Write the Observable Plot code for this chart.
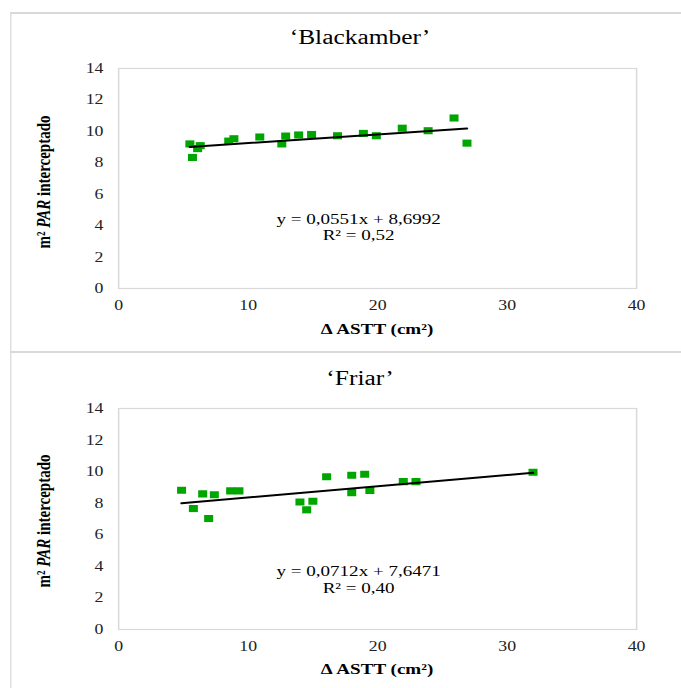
<!DOCTYPE html>
<html><head><meta charset="utf-8">
<script src="https://cdn.jsdelivr.net/npm/d3@7"></script>
<script src="https://cdn.jsdelivr.net/npm/@observablehq/plot@0.6"></script>
<style>
body{margin:0;background:#fff;}
#page{position:absolute;left:0;top:0;height:688px;transform-origin:0 0;font-family:"Liberation Serif","Times New Roman",serif;color:#000;}
.abs{position:absolute;white-space:nowrap;}
.line{position:absolute;background:#d9d9d9;}
.title{font-size:20px;transform:translate(-50%,-50%);}
.xlab{font-size:15px;font-weight:bold;transform:translate(-50%,-50%);}
.ylab{font-size:15px;font-weight:bold;transform:translate(-50%,-50%) rotate(-90deg);}
</style></head><body><div id="page"></div><script>
// ---- data ----
const titles = ["‘Blackamber’", "‘Friar’"];
const xTicks = [0, 10, 20, 30, 40];
const yTicks = [0, 2, 4, 6, 8, 10, 12, 14];
const blackX = [5.5, 5.7, 6.1, 6.3, 8.5, 8.9, 10.9, 12.6, 12.9, 13.9, 14.9, 16.9, 18.9, 19.9, 21.9, 23.9, 25.9, 26.9];
const blackY = [9.2, 8.34, 8.9, 9.09, 9.38, 9.53, 9.64, 9.2, 9.7, 9.77, 9.8, 9.72, 9.87, 9.72, 10.2, 10.04, 10.85, 9.25];
const friarX = [4.86, 5.77, 6.49, 6.95, 7.39, 8.65, 9.29, 14.0, 14.52, 15.0, 16.06, 18.0, 18.0, 19.0, 19.4, 21.98, 22.96, 32.0];
const friarY = [8.82, 7.66, 8.59, 7.03, 8.54, 8.78, 8.78, 8.08, 7.58, 8.12, 9.68, 9.77, 8.67, 9.83, 8.8, 9.37, 9.37, 9.96];
const slopes = [0.0551, 0.0712];
const intercepts = [8.6992, 7.6471];
const r2 = ["0,52", "0,40"];
const xLabel = "Δ ASTT (cm²)";
const yLabelHTML = "m² <i>PAR</i> interceptado";

// ---- layout ----
const S = 1.27;            // horizontal stretch of the reference
const W = 681 / S;
const page = document.getElementById("page");
page.style.width = W + "px";
page.style.transform = `scaleX(${S})`;
const ix = x => x / S;

function addLine(l, t, w, h) {
  const d = document.createElement("div");
  d.className = "line";
  Object.assign(d.style, {left: l + "px", top: t + "px", width: w + "px", height: h + "px"});
  page.appendChild(d);
}
function addText(cls, html, cx, cy) {
  const d = document.createElement("div");
  d.className = "abs " + cls;
  d.innerHTML = html;
  d.style.left = cx + "px";
  d.style.top = cy + "px";
  page.appendChild(d);
}
const fmt = v => String(v).replace(".", ",");

// borders
addLine(ix(10), 12, W, 1.5);
addLine(ix(10), 12, 1.2, 676);
addLine(ix(10), 351, W, 2);

const panels = [
  {xs: blackX, ys: blackY, top: 0, h: 352, mt: 68, mb: 64, eqDy: 48, titleY: 37, xlabY: 329, ylabY: 182},
  {xs: friarX, ys: friarY, top: 352, h: 336, mt: 56, mb: 59, eqDy: 60, titleY: 378, xlabY: 669, ylabY: 521}
];

panels.forEach((p, i) => {
  const pts = p.xs.map((x, j) => ({x, y: p.ys[j]}));
  const [x0, x1] = d3.extent(p.xs);
  const trend = [x0, x1].map(x => ({x, y: slopes[i] * x + intercepts[i]}));
  const eq = `y = ${fmt(slopes[i])}x + ${fmt(intercepts[i])}\nR² = ${r2[i]}`;
  const chart = Plot.plot({
    width: W, height: p.h,
    marginTop: p.mt, marginBottom: p.mb, marginLeft: ix(118), marginRight: W - ix(636),
    style: {fontSize: "14px", fontFamily: "Liberation Serif, serif", color: "#222", background: "transparent"},
    x: {domain: [0, 40], ticks: xTicks, tickSize: 0, tickPadding: 12, label: null},
    y: {domain: [0, 14], ticks: yTicks, tickSize: 0, tickPadding: 12, label: null},
    marks: [
      Plot.frame({stroke: "#d9d9d9", strokeWidth: 1.2}),
      Plot.dot(pts, {x: "x", y: "y", symbol: "square", r: 4, fill: "#00a600", stroke: "none"}),
      Plot.line(trend, {x: "x", y: "y", stroke: "#000", strokeWidth: 2}),
      Plot.text([eq], {text: d => d, frameAnchor: "middle", dx: ix(-19), dy: p.eqDy, fontSize: 15, lineHeight: 1.1, fill: "#000"})
    ]
  });
  chart.style.position = "absolute";
  chart.style.left = "0px";
  chart.style.top = p.top + "px";
  page.appendChild(chart);
  addText("title", titles[i], ix(360), p.titleY);
  addText("xlab", xLabel, ix(377), p.xlabY);
  addText("ylab", yLabelHTML, ix(44), p.ylabY);
});
</script></body></html>
